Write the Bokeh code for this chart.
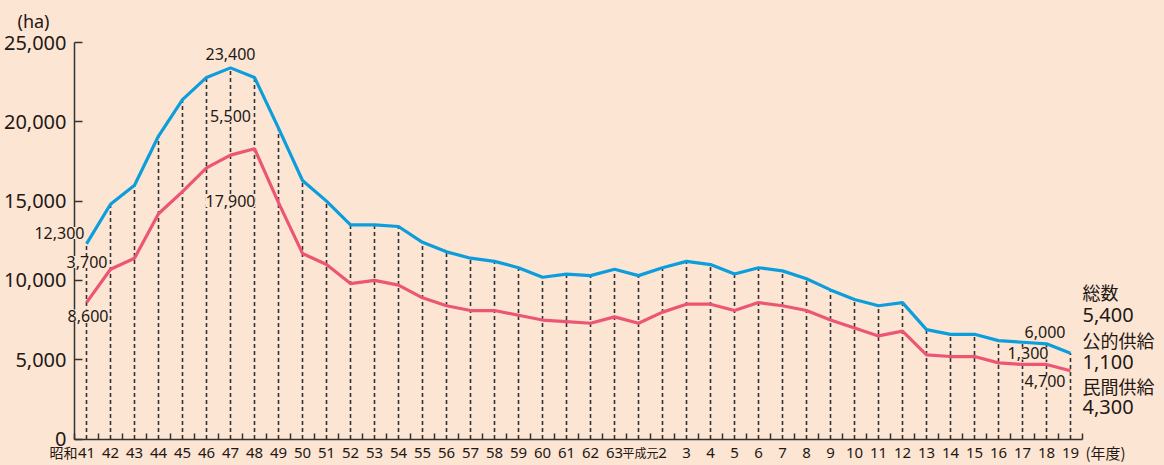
from bokeh.plotting import figure
from bokeh.models import FixedTicker, NumeralTickFormatter, Label, ColumnDataSource, Range1d
from bokeh.embed import file_html
from bokeh.resources import INLINE

# ---- data ----
years = ["41", "42", "43", "44", "45", "46", "47", "48", "49", "50", "51", "52", "53",
         "54", "55", "56", "57", "58", "59", "60", "61", "62", "63",
         "平成元", "2", "3", "4", "5", "6", "7", "8", "9", "10", "11", "12", "13",
         "14", "15", "16", "17", "18", "19"]
total = [12300, 14800, 16000, 19100, 21400, 22800, 23400, 22800, 19600, 16300, 15000,
         13500, 13500, 13400, 12400, 11800, 11400, 11200, 10800, 10200, 10400, 10300, 10700,
         10300, 10800, 11200, 11000, 10400, 10800, 10600, 10100, 9400, 8800, 8400, 8600,
         6900, 6600, 6600, 6200, 6100, 6000, 5400]
private = [8600, 10700, 11400, 14200, 15600, 17100, 17900, 18300, 14900, 11700, 11000,
           9800, 10000, 9700, 8900, 8400, 8100, 8100, 7800, 7500, 7400, 7300, 7700,
           7300, 8000, 8500, 8500, 8100, 8600, 8400, 8100, 7500, 7000, 6500, 6800,
           5300, 5200, 5200, 4800, 4700, 4700, 4300]
era_label = "昭和"
unit_label = "(ha)"
year_unit = "(年度)"
series_names = ["総数", "公的供給", "民間供給"]
y_ticks = [0, 5000, 10000, 15000, 20000, 25000]

BG = "#FDE5D3"
BLUE = "#0C9EDC"
RED = "#EC5674"
INK = "#231815"
NUM_FONT = "Noto Sans"
JP_FONT = "Noto Sans CJK JP"

idx = list(range(len(years)))
public = [t - pr for t, pr in zip(total, private)]
src = ColumnDataSource(dict(x=idx, total=total, private=private, zero=[0] * len(idx)))

# frame covers the whole canvas; axes are pinned with fixed_location
W, H = 1164, 465
px_per_cat = 24.0
left_pad, right_pad = 74, 82
ha_per_px = 25000 / 396.5
top_pad, bottom_pad = 42, 26.5
x0 = -0.5 - left_pad / px_per_cat
x1 = len(years) - 0.5 + right_pad / px_per_cat
y1 = 25000 + top_pad * ha_per_px
y0 = -bottom_pad * ha_per_px

p = figure(width=W, height=H, x_range=Range1d(x0, x1), y_range=Range1d(y0, y1),
           output_backend="svg", toolbar_location=None, min_border=0,
           min_border_left=0, min_border_right=0, min_border_top=0, min_border_bottom=0)
p.background_fill_color = BG
p.border_fill_color = BG
p.outline_line_color = None
p.grid.grid_line_color = None

# dashed droplines
p.segment(x0="x", y0="zero", x1="x", y1="total", source=src, line_color="#333333",
          line_width=1.6, line_dash="4 3")
p.line(x="x", y="total", source=src, line_color=BLUE, line_width=3.2)
p.line(x="x", y="private", source=src, line_color=RED, line_width=3.2)

# axes
xa = p.xaxis[0]
xa.fixed_location = 0
xa.bounds = (-0.5, len(years) - 0.5)
xa.ticker = FixedTicker(ticks=idx, minor_ticks=[i - 0.5 for i in range(len(years) + 1)])
overrides = {i: years[i] for i in idx}
overrides[23] = ""
xa.major_label_overrides = overrides
xa.major_tick_in = 0
xa.major_tick_out = 0
xa.minor_tick_in = 6
xa.minor_tick_out = 0
xa.axis_line_color = "#333333"
xa.axis_line_width = 1.5
xa.minor_tick_line_color = "#333333"
xa.minor_tick_line_width = 1.5
xa.major_label_standoff = 9
xa.major_label_text_font = NUM_FONT
xa.major_label_text_font_size = "15px"
xa.major_label_text_color = INK

ya = p.yaxis[0]
ya.fixed_location = -0.5
ya.bounds = (0, 25000)
ya.ticker = FixedTicker(ticks=y_ticks)
ya.formatter = NumeralTickFormatter(format="0,0")
ya.major_tick_in = 8
ya.major_tick_out = 0
ya.minor_tick_in = 0
ya.minor_tick_out = 0
ya.axis_line_color = "#333333"
ya.axis_line_width = 1.5
ya.major_tick_line_color = "#333333"
ya.major_tick_line_width = 1.5
ya.major_label_standoff = 8
ya.major_label_text_font = NUM_FONT
ya.major_label_text_font_size = "20px"
ya.major_label_text_color = INK


def lab(x, y, text, xo, yo, align="center", size="16px", font=NUM_FONT, bg=True, baseline="middle"):
    p.add_layout(Label(x=x, y=y, text=text, x_offset=xo, y_offset=yo, text_align=align,
                       text_baseline=baseline, text_font=font, text_font_size=size,
                       text_color=INK,
                       background_fill_color=BG if bg else None,
                       background_fill_alpha=1.0 if bg else 0.0))


def fmt(v):
    return f"{v:,}"


# first year labels
lab(0, total[0], fmt(total[0]), -2, 11, align="right")
lab(0, total[0], fmt(public[0]), 21, -18, align="right")
lab(0, private[0], fmt(private[0]), 22, -13, align="right")
# peak year labels
pk = total.index(max(total))
lab(pk, total[pk], fmt(total[pk]), 0, 14)
lab(pk, total[pk], fmt(public[pk]), 0, -48)
lab(pk, private[pk], fmt(private[pk]), 0, -46)
# second to last year labels
k = len(years) - 2
lab(k, total[k], fmt(total[k]), 19, 12, align="right")
lab(k, private[k], fmt(public[k]), 2, 11, align="right")
lab(k, private[k], fmt(private[k]), 19, -17, align="right")
# last year, right side legend-like labels
n = len(years) - 1
right_items = [(series_names[0], 61, JP_FONT, "18px"), (fmt(total[n]), 38, NUM_FONT, "20px"),
               (series_names[1], 13, JP_FONT, "18px"), (fmt(public[n]), -9, NUM_FONT, "20px"),
               (series_names[2], -33, JP_FONT, "18px"), (fmt(private[n]), -54, NUM_FONT, "20px")]
for t, yo, f, s in right_items:
    lab(n, total[n], t, 12, yo, align="left", size=s, font=f, bg=False)

# unit / era labels
lab(-0.5, 25000, unit_label, -57, 22, align="left", size="18px", font=NUM_FONT, bg=False)
lab(0, 0, era_label, -9, -13, align="right", size="14px", font=JP_FONT, bg=False)
lab(23, 0, years[23], 2, -13, align="center", size="12px", font=JP_FONT, bg=False)
lab(n, 0, year_unit, 15, -13, align="left", size="15px", font=JP_FONT, bg=False)

template = "{% block preamble %}<style>html, body { background: " + BG + "; }</style>{% endblock %}"
open("out.html", "w").write(file_html(p, INLINE, template=template))
